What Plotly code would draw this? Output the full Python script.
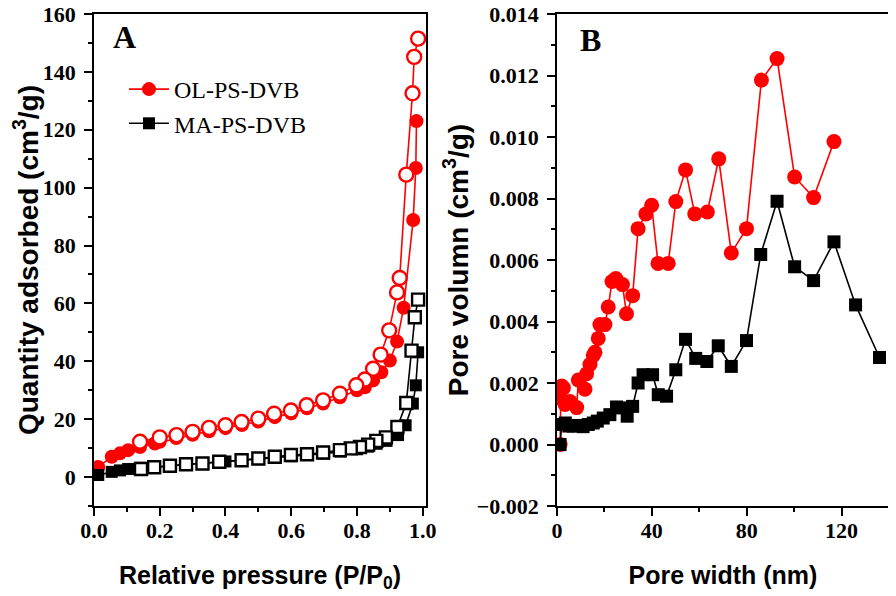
import plotly.graph_objects as go

# ---------------- Panel A: N2 isotherms ----------------
p_ol_ads = [0.013, 0.054, 0.079, 0.104, 0.14, 0.185, 0.2, 0.25, 0.30, 0.35, 0.40, 0.45, 0.50, 0.55,
            0.60, 0.648, 0.697, 0.748, 0.80, 0.824, 0.849, 0.874, 0.90, 0.922, 0.942, 0.971, 0.979, 0.981]
v_ol_ads = [3.5, 7.0, 8.2, 9.3, 10.4, 11.6, 12.2, 13.5, 14.6, 15.8, 16.9, 18.0, 19.2, 20.7,
            22.0, 23.8, 25.4, 27.6, 30.0, 31.0, 33.4, 36.2, 40.3, 46.8, 58.5, 88.8, 106.8, 123.0]

p_ol_des = [0.986, 0.974, 0.969, 0.950, 0.930, 0.922, 0.898, 0.872, 0.849, 0.824, 0.798, 0.748,
            0.697, 0.647, 0.599, 0.548, 0.50, 0.449, 0.40, 0.35, 0.30, 0.251, 0.20, 0.14]
v_ol_des = [151.5, 145.2, 132.6, 104.5, 68.8, 63.8, 50.7, 42.3, 37.4, 33.7, 31.7, 28.8,
            26.5, 24.8, 23.0, 21.9, 20.2, 19.0, 17.9, 17.0, 15.6, 14.5, 13.7, 12.2]

p_ma_ads = [0.013, 0.054, 0.079, 0.104, 0.14, 0.18, 0.23, 0.28, 0.33, 0.38, 0.40, 0.45, 0.50, 0.55,
            0.60, 0.65, 0.70, 0.75, 0.80, 0.834, 0.86, 0.89, 0.925, 0.948, 0.97, 0.979, 0.986]
v_ma_ads = [0.7, 1.8, 2.3, 2.8, 3.2, 3.5, 3.9, 4.3, 4.7, 5.1, 5.4, 5.7, 6.2, 6.7,
            7.2, 7.6, 8.1, 8.8, 9.6, 10.5, 11.5, 12.5, 14.5, 17.9, 25.4, 31.7, 43.1]

p_ma_des = [0.986, 0.976, 0.966, 0.950, 0.923, 0.888, 0.859, 0.834, 0.809, 0.781, 0.748, 0.697,
            0.648, 0.599, 0.55, 0.50, 0.449, 0.381, 0.33, 0.28, 0.231, 0.183, 0.143]
v_ma_des = [61.3, 55.2, 43.7, 25.6, 17.3, 13.7, 12.5, 11.2, 10.4, 9.9, 9.3, 8.5,
            7.9, 7.6, 7.0, 6.4, 5.8, 5.3, 4.7, 4.4, 3.9, 3.4, 2.8]

# ---------------- Panel B: pore size distribution ----------------
w_ol = [1.3, 1.6, 2.0, 2.7, 3.4, 5.5, 8.3, 9.0, 11.8, 12.5, 13.9, 15.3, 16.0, 17.4, 18.1, 20.2, 21.6,
        23.2, 24.8, 27.6, 29.3, 31.9, 34.2, 37.5, 39.9, 42.6, 46.9, 50.1, 54.2, 58.1, 63.4, 68.2,
        73.5, 79.9, 86.2, 92.8, 100.2, 108.2, 116.8]
v_ol = [0.0, 0.0015, 0.0019, 0.00184, 0.0013, 0.0014, 0.0012, 0.0021, 0.0018, 0.0023, 0.0026, 0.0029,
        0.0030, 0.00345, 0.0039, 0.0039, 0.00447, 0.0053, 0.0054, 0.0052, 0.00425, 0.00484, 0.00702,
        0.0075, 0.00778, 0.00589, 0.00589, 0.0079, 0.00893, 0.0075, 0.00756, 0.00929, 0.00623,
        0.00702, 0.01185, 0.01255, 0.0087, 0.00803, 0.00985]

w_ma = [1.3, 2.0, 3.5, 5.0, 6.9, 9.0, 11.0, 13.2, 15.3, 17.0, 19.5, 22.3, 25.1, 27.6, 29.6, 31.9,
        34.2, 36.3, 40.3, 42.7, 46.2, 50.1, 54.2, 58.5, 63.2, 68.0, 73.5, 79.9, 85.9, 92.8, 100.2,
        108.2, 116.8, 125.9, 136.0]
v_ma = [0.0, 0.00065, 0.0007, 0.0006, 0.0006, 0.00062, 0.00058, 0.00065, 0.0007, 0.00076, 0.00086,
        0.00097, 0.00122, 0.00119, 0.00092, 0.00124, 0.0020, 0.00227, 0.00227, 0.00162, 0.00157,
        0.00243, 0.00342, 0.0028, 0.0027, 0.00321, 0.00254, 0.00338, 0.00618, 0.00791, 0.00578,
        0.00533, 0.00659, 0.00454, 0.00283]

series_names = ["OL-PS-DVB", "MA-PS-DVB"]
RED = "#ff0000"
BLACK = "#000000"

# page body margin offsets the figure by ~8 px
OFF = 8
W, H = 888, 588


def fx(px):
    return (px - OFF) / W


def fy(py):
    return 1 - (py - OFF) / H


fig = go.Figure()

# Panel A traces
fig.add_trace(go.Scatter(x=p_ol_ads, y=v_ol_ads, mode="lines+markers", name=series_names[0],
                         line=dict(color=RED, width=1.6),
                         marker=dict(symbol="circle", size=14, color=RED, line=dict(width=0)),
                         xaxis="x", yaxis="y"))
fig.add_trace(go.Scatter(x=p_ol_des, y=v_ol_des, mode="lines+markers", showlegend=False,
                         line=dict(color=RED, width=1.6),
                         marker=dict(symbol="circle", size=14, color="white", line=dict(color=RED, width=2.4)),
                         xaxis="x", yaxis="y"))
fig.add_trace(go.Scatter(x=p_ma_ads, y=v_ma_ads, mode="lines+markers", name=series_names[1],
                         line=dict(color=BLACK, width=1.6),
                         marker=dict(symbol="square", size=12, color=BLACK, line=dict(width=0)),
                         xaxis="x", yaxis="y"))
fig.add_trace(go.Scatter(x=p_ma_des, y=v_ma_des, mode="lines+markers", showlegend=False,
                         line=dict(color=BLACK, width=1.6),
                         marker=dict(symbol="square", size=12, color="white", line=dict(color=BLACK, width=2.4)),
                         xaxis="x", yaxis="y"))

# Panel B traces
fig.add_trace(go.Scatter(x=w_ol, y=v_ol, mode="lines+markers", showlegend=False,
                         line=dict(color=RED, width=1.6),
                         marker=dict(symbol="circle", size=15, color=RED, line=dict(width=0)),
                         xaxis="x2", yaxis="y2"))
fig.add_trace(go.Scatter(x=w_ma, y=v_ma, mode="lines+markers", showlegend=False,
                         line=dict(color=BLACK, width=1.6),
                         marker=dict(symbol="square", size=13, color=BLACK, line=dict(width=0)),
                         xaxis="x2", yaxis="y2"))

tickfont = dict(family="Liberation Serif", size=22, color="black", weight="bold")
titlefont = dict(family="Liberation Sans", size=25, color="black", weight="bold")
ytitlefont = dict(family="Liberation Sans", size=28, color="black", weight="bold")


def axis_common():
    return dict(showline=True, linecolor="black", linewidth=1.6, mirror=True,
                ticks="outside", ticklen=8, tickwidth=1.6, tickcolor="black", automargin=False,
                showgrid=False, zeroline=False, tickfont=tickfont, ticklabelstandoff=4,
                ticklabeloverflow="allow",
                minor=dict(ticks="outside", ticklen=4, tickwidth=1.6, tickcolor="black", showgrid=False))


yd = [fy(506), fy(14)]

xa = axis_common()
xa.update(domain=[fx(94), fx(426)], range=[0, 1.01], dtick=0.2, tick0=0, tickformat=".1f",
          anchor="y", ticklabelstandoff=-4,
          title=dict(text="Relative pressure (P/P<sub>0</sub>)", font=titlefont, standoff=24))
xa["minor"]["dtick"] = 0.1
ya = axis_common()
ya.update(domain=yd, range=[-10, 160], dtick=20, tick0=0, anchor="x",
          title=dict(text="Quantity adsorbed (cm<sup>3</sup>/g)", font=ytitlefont, standoff=2))
ya["minor"]["dtick"] = 10

xb = axis_common()
xb.update(domain=[fx(557), fx(889)], range=[0, 140], dtick=40, tick0=0, anchor="y2",
          ticklabelstandoff=-4,
          title=dict(text="Pore width (nm)", font=titlefont, standoff=24))
xb["minor"]["dtick"] = 20
yb = axis_common()
yb.update(domain=yd, range=[-0.002, 0.014], dtick=0.002, tick0=0, tickformat=".3f", anchor="x2",
          title=dict(text="Pore volumn (cm<sup>3</sup>/g)", font=ytitlefont, standoff=0))
yb["minor"]["dtick"] = 0.001

fig.update_layout(
    width=W, height=H, margin=dict(l=0, r=0, t=0, b=0),
    paper_bgcolor="white", plot_bgcolor="white",
    xaxis=xa, yaxis=ya, xaxis2=xb, yaxis2=yb,
    showlegend=True,
    legend=dict(x=fx(124), y=fy(67), xanchor="left", yanchor="top",
                bgcolor="rgba(0,0,0,0)", font=dict(family="Liberation Serif", size=24, color="black"),
                tracegroupgap=0, itemwidth=40),
    annotations=[
        dict(text="<b>A</b>", x=fx(124), y=fy(37), xref="paper", yref="paper", showarrow=False,
             xanchor="center", yanchor="middle",
             font=dict(family="Liberation Serif", size=32, color="black")),
        dict(text="<b>B</b>", x=fx(590), y=fy(40), xref="paper", yref="paper", showarrow=False,
             xanchor="center", yanchor="middle",
             font=dict(family="Liberation Serif", size=32, color="black")),
    ],
)

fig.write_html("out.html")
